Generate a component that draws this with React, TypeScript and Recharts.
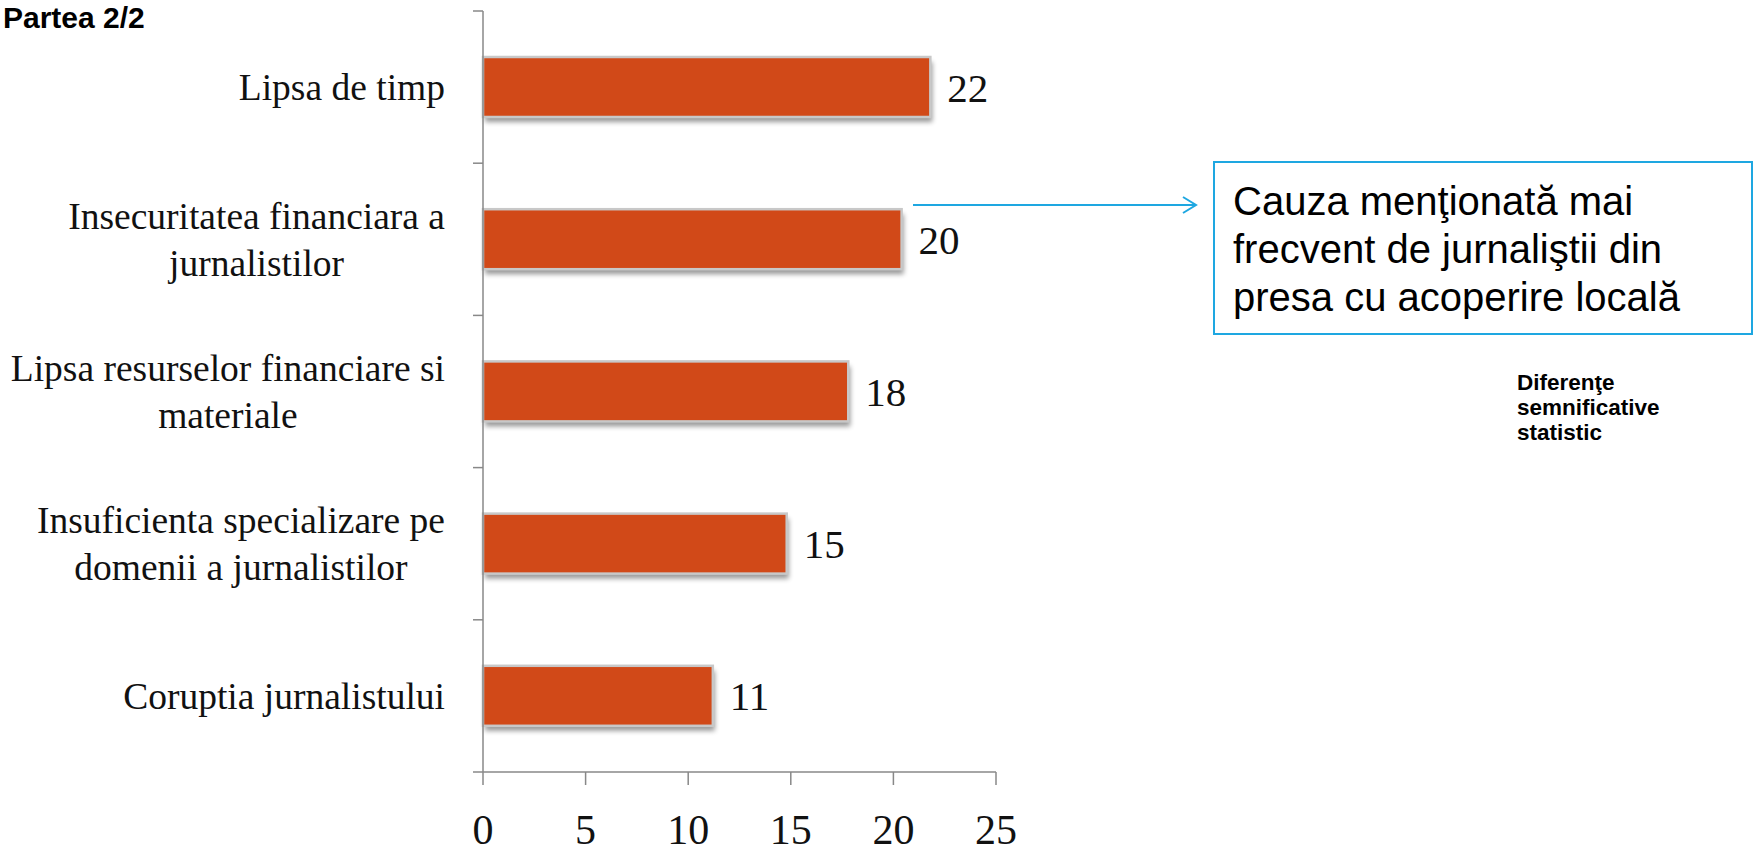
import React from "react";
import { BarChart, Bar, XAxis, YAxis, LabelList } from "recharts";

const categories = [
  "Lipsa de timp",
  "Insecuritatea financiara a\njurnalistilor",
  "Lipsa resurselor financiare si\nmateriale",
  "Insuficienta specializare pe\ndomenii a jurnalistilor",
  "Coruptia jurnalistului",
];
const values = [21.8, 20.4, 17.8, 14.8, 11.2];
const xTicks = [0, 5, 10, 15, 20, 25];

const title = "Partea 2/2";
const noteLines = [
  "Cauza menţionată mai",
  "frecvent de jurnaliştii din",
  "presa cu acoperire locală",
];
const sigLines = ["Diferenţe", "semnificative", "statistic"];

const data = categories.map((name, i) => ({ name, value: values[i] }));

const SERIF = '"Liberation Serif", "Times New Roman", serif';
const SANS = '"Liberation Sans", Arial, sans-serif';
const BAR_COLOR = "#D14918";
const AXIS_COLOR = "#888888";
const BLUE = "#1EA7E1";
const TICK_GAP = 38;
const CAT_FONT = 37.5;

let ctx: CanvasRenderingContext2D | null = null;
function textWidth(s: string, font: string) {
  if (!ctx) ctx = document.createElement("canvas").getContext("2d");
  if (!ctx) return s.length * 16;
  ctx.font = font;
  return ctx.measureText(s).width;
}

// category labels: block right-aligned, lines centred inside it,
// plus Excel-style ticks on the band boundaries
function CategoryTick(props: any) {
  const { x, y, payload, index } = props;
  const lines = String(payload.value).split("\n");
  const half = payload.offset || 76;
  const blockW = Math.max(...lines.map((l) => textWidth(l, `${CAT_FONT}px ${SERIF}`)));
  const cx = x - blockW / 2;
  const lineH = 47;
  const firstY = y - ((lines.length - 1) * lineH) / 2;
  const axisX = x + TICK_GAP;
  return (
    <g>
      <line x1={axisX - 10} x2={axisX} y1={y - half} y2={y - half} stroke={AXIS_COLOR} strokeWidth={1.5} />
      {index === categories.length - 1 && (
        <line x1={axisX - 10} x2={axisX} y1={y + half} y2={y + half} stroke={AXIS_COLOR} strokeWidth={1.5} />
      )}
      <text textAnchor="middle" fontFamily={SERIF} fontSize={CAT_FONT} fill="#111">
        {lines.map((l, i) => (
          <tspan key={i} x={cx} y={firstY + i * lineH} dy="0.35em">
            {l}
          </tspan>
        ))}
      </text>
    </g>
  );
}

function ShadowBar(props: any) {
  const { x, y, width, height } = props;
  if (!width) return null;
  return (
    <g>
      <rect x={x + 2} y={y + 5} width={width} height={height} fill="#000" opacity={0.4} filter="url(#barShadow)" />
      <rect x={x} y={y} width={width} height={height} fill={BAR_COLOR} stroke="#C8C8C8" strokeWidth={2.5} />
    </g>
  );
}

export default function App() {
  return (
    <div style={{ position: "absolute", left: 0, top: 0, width: 1756, height: 855, background: "#fff", overflow: "hidden" }}>
      <svg width={0} height={0} style={{ position: "absolute" }}>
        <defs>
          <filter id="barShadow" x="-10%" y="-30%" width="120%" height="160%">
            <feGaussianBlur stdDeviation="2.5" />
          </filter>
        </defs>
      </svg>

      <BarChart
        width={1756}
        height={855}
        data={data}
        layout="vertical"
        margin={{ top: 11, right: 760, bottom: 0, left: 0 }}
        barSize={60}
      >
        <XAxis
          type="number"
          domain={[0, 25]}
          ticks={xTicks}
          height={83}
          tickSize={13}
          tickMargin={29}
          axisLine={{ stroke: AXIS_COLOR, strokeWidth: 1.5 }}
          tickLine={{ stroke: AXIS_COLOR, strokeWidth: 1.5 }}
          tick={{ fontSize: 42, fontFamily: SERIF, fill: "#111" }}
        />
        <YAxis
          type="category"
          dataKey="name"
          width={483}
          tickSize={0}
          tickMargin={TICK_GAP}
          tickLine={false}
          axisLine={{ stroke: AXIS_COLOR, strokeWidth: 1.5 }}
          tick={<CategoryTick />}
          interval={0}
        />
        <Bar dataKey="value" shape={<ShadowBar />} isAnimationActive={false}>
          <LabelList
            dataKey="value"
            position="right"
            offset={17}
            formatter={(v: any) => Math.round(Number(v))}
            fontSize={41}
            fontFamily={SERIF}
            fill="#111"
          />
        </Bar>
      </BarChart>

      <div
        style={{
          position: "absolute",
          left: 3,
          top: 1,
          fontFamily: SANS,
          fontWeight: "bold",
          fontSize: 30,
          color: "#000",
          lineHeight: "34px",
        }}
      >
        {title}
      </div>

      <svg width={1756} height={855} style={{ position: "absolute", left: 0, top: 0, pointerEvents: "none" }}>
        <line x1={913} y1={205} x2={1196} y2={205} stroke={BLUE} strokeWidth={2} />
        <polyline points="1183,197 1196,205 1183,213" fill="none" stroke={BLUE} strokeWidth={2} />
      </svg>

      <div
        style={{
          position: "absolute",
          left: 1213,
          top: 161,
          width: 540,
          height: 174,
          boxSizing: "border-box",
          border: `2px solid ${BLUE}`,
          paddingLeft: 18,
          paddingTop: 14,
          fontFamily: SANS,
          fontSize: 40,
          lineHeight: "48px",
          color: "#000",
          whiteSpace: "nowrap",
        }}
      >
        {noteLines.map((l, i) => (
          <div key={i}>{l}</div>
        ))}
      </div>

      <div
        style={{
          position: "absolute",
          left: 1517,
          top: 370,
          fontFamily: SANS,
          fontWeight: "bold",
          fontSize: 22.5,
          lineHeight: "25px",
          color: "#000",
        }}
      >
        {sigLines.map((l, i) => (
          <div key={i}>{l}</div>
        ))}
      </div>
    </div>
  );
}
